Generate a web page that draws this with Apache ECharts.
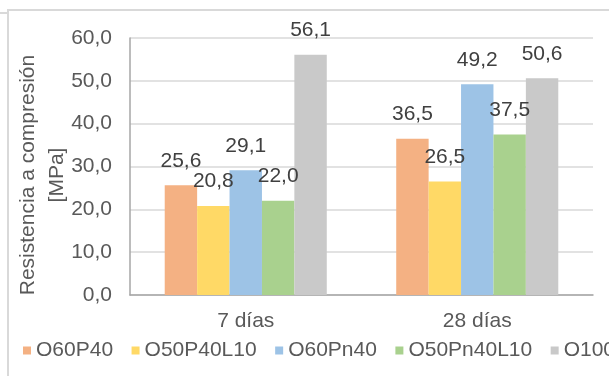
<!DOCTYPE html>
<html>
<head>
<meta charset="utf-8">
<style>
  html, body { margin: 0; padding: 0; background: #ffffff; }
  #chart { width: 609px; height: 376px; }
</style>
<script src="https://cdn.jsdelivr.net/npm/echarts@6/dist/echarts.min.js"></script>
</head>
<body>
<div id="chart"></div>
<script>
// Compressive strength by mix and curing age
const categories = ['7 días', '28 días'];
const seriesNames = ['O60P40', 'O50P40L10', 'O60Pn40', 'O50Pn40L10', 'O100'];
const o60p40 = [25.6, 36.5];
const o50p40l10 = [20.8, 26.5];
const o60pn40 = [29.1, 49.2];
const o50pn40l10 = [22.0, 37.5];
const o100 = [56.1, 50.6];
const yTicks = [0, 10, 20, 30, 40, 50, 60];

const colors = ['#F4B183', '#FFD966', '#9DC3E6', '#A9D18E', '#C9C9C9'];
const values = [o60p40, o50p40l10, o60pn40, o50pn40l10, o100];
const FONT = 'Liberation Sans, Arial, sans-serif';
const FS = 21;

const fmt = v => Number(v).toFixed(1).replace('.', ',');

const chart = echarts.init(document.getElementById('chart'), null, { renderer: 'canvas' });

chart.setOption({
  animation: false,
  backgroundColor: '#ffffff',
  textStyle: { fontFamily: FONT },
  grid: { left: 130, right: 16, top: 38, bottom: 81, containLabel: false },
  legend: {
    data: seriesNames,
    left: 23,
    top: 340,
    width: 1400,
    padding: 0,
    icon: 'rect',
    itemWidth: 8,
    itemHeight: 8,
    itemGap: 18.5,
    textStyle: { fontFamily: FONT, fontSize: FS, color: '#595959' }
  },
  xAxis: {
    type: 'category',
    data: categories,
    axisLine: { show: true, lineStyle: { color: '#a6a6a6', width: 1.5 } },
    axisTick: { show: false },
    axisLabel: { fontFamily: FONT, fontSize: FS, color: '#595959', margin: 16 }
  },
  yAxis: {
    type: 'value',
    min: yTicks[0],
    max: yTicks[yTicks.length - 1],
    interval: 10,
    axisLine: { show: true, lineStyle: { color: '#a6a6a6', width: 1.5 } },
    axisTick: { show: false },
    splitLine: { lineStyle: { color: '#d9d9d9', width: 1.5 } },
    axisLabel: { fontFamily: FONT, fontSize: FS, color: '#595959', margin: 18, formatter: fmt }
  },
  series: seriesNames.map((name, i) => ({
    name: name,
    type: 'bar',
    data: values[i],
    barGap: '0%',
    barCategoryGap: '30%',
    itemStyle: { color: colors[i] },
    label: {
      show: true,
      position: 'top',
      distance: 14,
      fontFamily: FONT,
      fontSize: FS,
      color: '#404040',
      formatter: p => fmt(p.value)
    }
  })),
  graphic: [
    {
      type: 'rect',
      shape: { x: 8, y: 10, width: 700, height: 500 },
      style: { fill: 'none', stroke: '#d9d9d9', lineWidth: 2 },
      silent: true
    },
    {
      type: 'line',
      shape: { x1: 0, y1: 13, x2: 7, y2: 13 },
      style: { stroke: '#d9d9d9', lineWidth: 2 },
      silent: true
    },
    {
      type: 'text',
      x: 43,
      y: 175,
      rotation: Math.PI / 2,
      style: {
        text: 'Resistencia a compresión\n[MPa]',
        font: FS + 'px ' + FONT,
        fill: '#595959',
        textAlign: 'center',
        textVerticalAlign: 'middle',
        lineHeight: 29
      },
      silent: true
    }
  ]
});
</script>
</body>
</html>
